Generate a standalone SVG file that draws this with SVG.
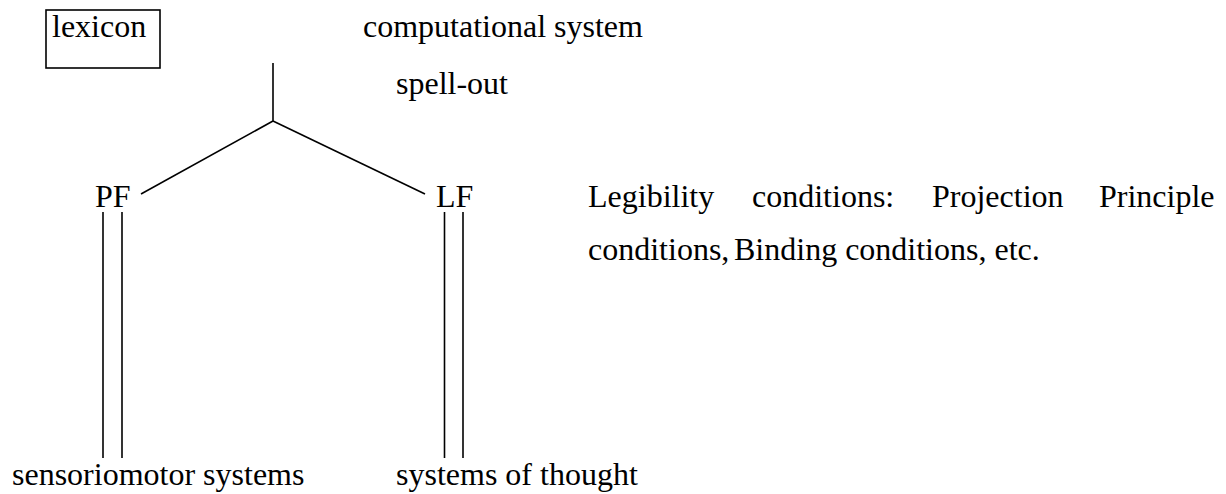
<svg xmlns="http://www.w3.org/2000/svg" width="1226" height="494" viewBox="0 0 1226 494">
  <style>
    text { font-family: "Liberation Serif", "Times New Roman", serif; font-size: 32px; fill: #000; }
    .ln { stroke: #000; stroke-width: 1.6; fill: none; }
  </style>
  <rect width="1226" height="494" fill="#fff"/>

  <!-- connectors: tree branches and double interface lines -->
  <g id="connectors">
    <line class="ln" x1="273" y1="63" x2="273" y2="121"/>
    <line class="ln" x1="273" y1="121" x2="141" y2="194"/>
    <line class="ln" x1="273" y1="121" x2="425" y2="194"/>
    <line class="ln" x1="103" y1="212" x2="103" y2="458"/>
    <line class="ln" x1="122" y1="212" x2="122" y2="458"/>
    <line class="ln" x1="444.5" y1="212" x2="444.5" y2="458"/>
    <line class="ln" x1="463" y1="212" x2="463" y2="458"/>
  </g>

  <g id="lexicon">
    <rect class="ln" x="46" y="10" width="114" height="58"/>
    <text x="52" y="37">lexicon</text>
  </g>

  <g id="computational-system">
    <text x="363" y="37">computational system</text>
  </g>

  <g id="spell-out">
    <text x="396" y="94">spell-out</text>
  </g>

  <g id="pf">
    <text x="95" y="207">PF</text>
  </g>

  <g id="lf">
    <text x="436" y="207">LF</text>
  </g>

  <g id="legibility">
    <text y="207"><tspan x="588">Legibility</tspan><tspan x="752">conditions:</tspan><tspan x="932">Projection</tspan><tspan x="1099">Principle</tspan></text>
    <text y="260"><tspan x="588">conditions,</tspan><tspan x="734">Binding conditions, etc.</tspan></text>
  </g>

  <g id="sensoriomotor">
    <text x="12" y="485">sensoriomotor systems</text>
  </g>

  <g id="thought">
    <text x="396" y="485">systems of thought</text>
  </g>
</svg>
